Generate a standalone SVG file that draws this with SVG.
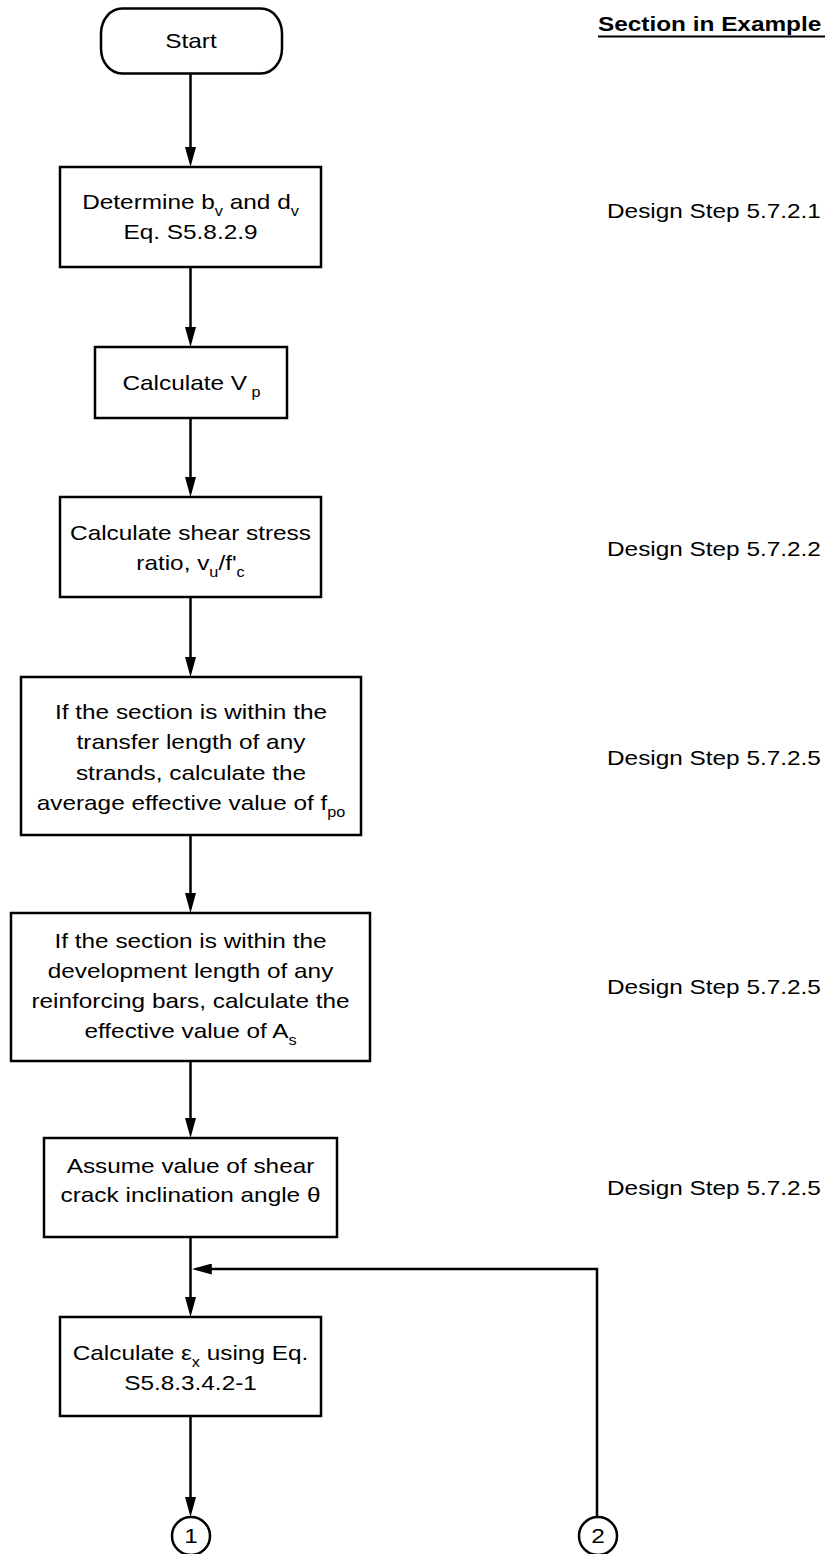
<svg xmlns="http://www.w3.org/2000/svg" width="827" height="1554" viewBox="0 0 827 1554">
<style>
.b{fill:#fff;stroke:#000;stroke-width:2.5}
.t{font-family:"Liberation Sans",Arial,Helvetica,sans-serif;font-size:21px;fill:#000}
.m{text-anchor:middle}
.s{font-size:14px}
.h{font-weight:bold}
.c{fill:none;stroke:#000;stroke-width:2.5}
</style>
<defs>
<marker id="a" markerUnits="userSpaceOnUse" markerWidth="20" markerHeight="11" refX="15" refY="5.5" orient="auto" viewBox="0 0 20 11"><path d="M0,0L20,5.5L0,11z" fill="#000"/></marker>
</defs>
<rect width="827" height="1554" fill="#fff"/>

<g id="connectors">
<path class="c" d="M190.5,73.5V162" marker-end="url(#a)"/>
<path class="c" d="M190.5,267V342" marker-end="url(#a)"/>
<path class="c" d="M190.5,418V492" marker-end="url(#a)"/>
<path class="c" d="M190.5,597V672" marker-end="url(#a)"/>
<path class="c" d="M190.5,835V908" marker-end="url(#a)"/>
<path class="c" d="M190.5,1061V1133" marker-end="url(#a)"/>
<path class="c" d="M190.5,1237V1312" marker-end="url(#a)"/>
<path class="c" d="M597,1517V1269H196.8" marker-end="url(#a)"/>
<path class="c" d="M190.5,1416V1512" marker-end="url(#a)"/>
</g>

<g id="header">
<text class="t h" transform="translate(598,31) scale(1.16,1)">Section in Example</text>
<line x1="598" y1="36.5" x2="825" y2="36.5" stroke="#000" stroke-width="2"/>
</g>

<g id="start">
<rect class="b" x="101" y="8.5" width="181" height="65" rx="21" ry="25"/>
<text class="t m" transform="translate(191,48) scale(1.16,1)">Start</text>
</g>

<g id="n1">
<rect class="b" x="60" y="167" width="261" height="100"/>
<text class="t m" transform="translate(190.5,209) scale(1.16,1)">Determine b<tspan class="s" dy="7">v</tspan><tspan dy="-7"> and d</tspan><tspan class="s" dy="7">v</tspan></text>
<text class="t m" transform="translate(190.5,239) scale(1.16,1)">Eq. S5.8.2.9</text>
</g>

<g id="n2">
<rect class="b" x="95" y="347" width="192" height="71"/>
<text class="t m" transform="translate(191.5,390) scale(1.16,1)">Calculate V<tspan class="s" dy="7"> p</tspan></text>
</g>

<g id="n3">
<rect class="b" x="60" y="497" width="261" height="100"/>
<text class="t m" transform="translate(190.5,540) scale(1.16,1)">Calculate shear stress</text>
<text class="t m" transform="translate(190.5,570) scale(1.16,1)">ratio, v<tspan class="s" dy="7">u</tspan><tspan dy="-7">/f'</tspan><tspan class="s" dy="7">c</tspan></text>
</g>

<g id="n4">
<rect class="b" x="21" y="677" width="340" height="158"/>
<text class="t m" transform="translate(191,718.5) scale(1.16,1)">If the section is within the</text>
<text class="t m" transform="translate(191,749) scale(1.16,1)">transfer length of any</text>
<text class="t m" transform="translate(191,779.5) scale(1.16,1)">strands, calculate the</text>
<text class="t m" transform="translate(191,810) scale(1.16,1)">average effective value of f<tspan class="s" dy="7">po</tspan></text>
</g>

<g id="n5">
<rect class="b" x="11" y="913" width="359" height="148"/>
<text class="t m" transform="translate(190.5,948) scale(1.16,1)">If the section is within the</text>
<text class="t m" transform="translate(190.5,978) scale(1.16,1)">development length of any</text>
<text class="t m" transform="translate(190.5,1008) scale(1.16,1)">reinforcing bars, calculate the</text>
<text class="t m" transform="translate(190.5,1037.5) scale(1.16,1)">effective value of A<tspan class="s" dy="7">s</tspan></text>
</g>

<g id="n6">
<rect class="b" x="44" y="1138" width="293" height="99"/>
<text class="t m" transform="translate(190.5,1172.5) scale(1.16,1)">Assume value of shear</text>
<text class="t m" transform="translate(190.5,1202) scale(1.16,1)">crack inclination angle θ</text>
</g>

<g id="n7">
<rect class="b" x="60" y="1317" width="261" height="99"/>
<text class="t m" transform="translate(190.5,1359.5) scale(1.16,1)">Calculate ε<tspan class="s" dy="7">x</tspan><tspan dy="-7"> using Eq.</tspan></text>
<text class="t m" transform="translate(190.5,1389.5) scale(1.16,1)">S5.8.3.4.2-1</text>
</g>

<g id="c1">
<circle class="b" cx="191" cy="1536" r="19"/>
<text class="t m" transform="translate(191,1543) scale(1.16,1)">1</text>
</g>

<g id="c2">
<circle class="b" cx="598" cy="1536" r="19"/>
<text class="t m" transform="translate(598,1543) scale(1.16,1)">2</text>
</g>

<g id="labels">
<text class="t" transform="translate(607,218) scale(1.16,1)">Design Step 5.7.2.1</text>
<text class="t" transform="translate(607,555.5) scale(1.16,1)">Design Step 5.7.2.2</text>
<text class="t" transform="translate(607,764.5) scale(1.16,1)">Design Step 5.7.2.5</text>
<text class="t" transform="translate(607,993.5) scale(1.16,1)">Design Step 5.7.2.5</text>
<text class="t" transform="translate(607,1194.5) scale(1.16,1)">Design Step 5.7.2.5</text>
</g>
</svg>
